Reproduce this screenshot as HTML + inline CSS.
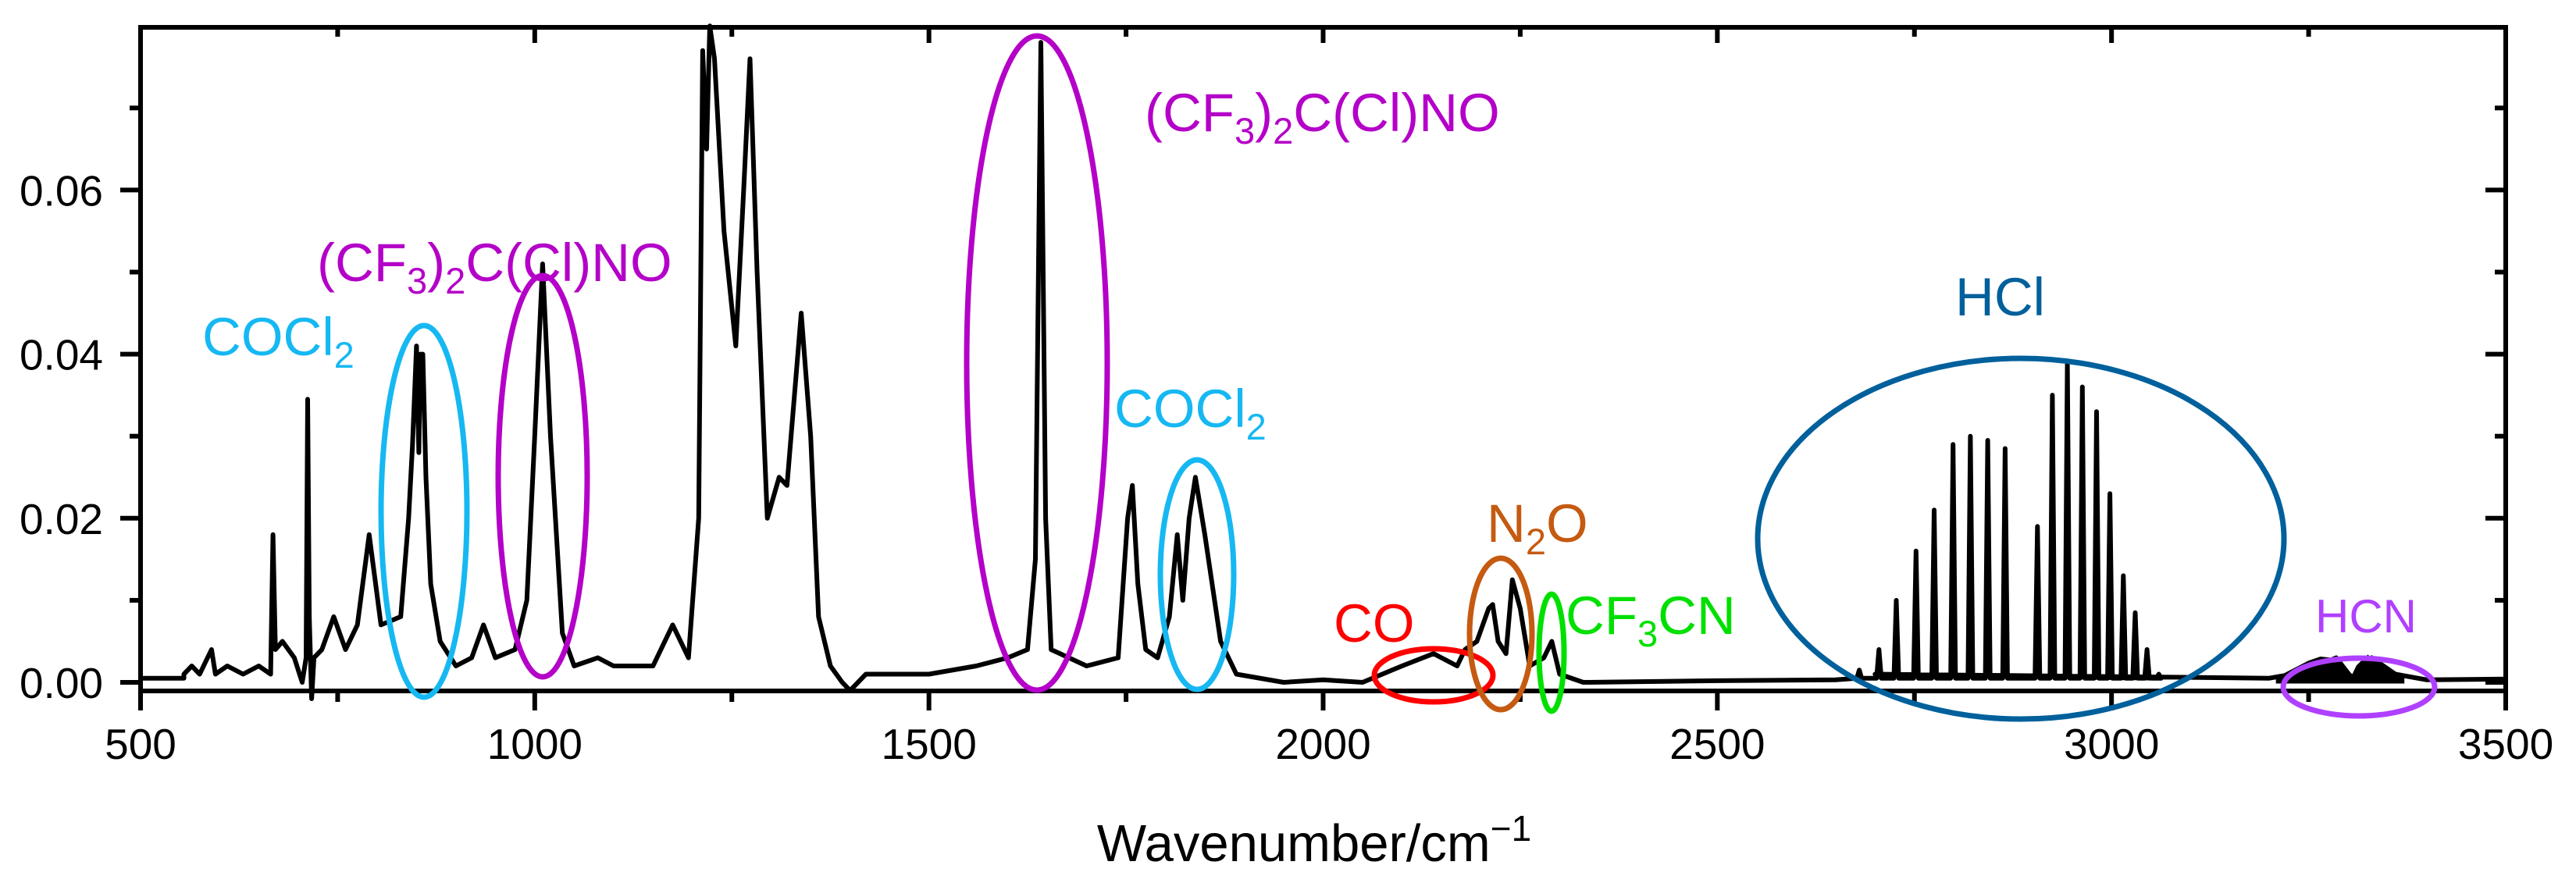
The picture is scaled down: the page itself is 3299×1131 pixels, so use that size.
<!DOCTYPE html>
<html><head><meta charset="utf-8"><style>
html,body{margin:0;padding:0;background:#fff;}
svg{display:block;font-family:"Liberation Sans",sans-serif;}
</style></head><body>
<svg id="chart" width="3299" height="1131" viewBox="0 0 3299 1131" xmlns="http://www.w3.org/2000/svg">
<g id="axes"></g>
<g id="series"></g>
<g id="annots">
  <ellipse cx="543" cy="655" rx="55" ry="238" fill="none" stroke="#16b8f2" stroke-width="7"/>
  <text x="259" y="455" font-size="69" fill="#16b8f2">COCl<tspan font-size="47" dy="16">2</tspan></text>
  <ellipse cx="695" cy="610" rx="57" ry="257" fill="none" stroke="#b400c8" stroke-width="7"/>
  <text x="406" y="360" font-size="69" fill="#b400c8">(CF<tspan font-size="47" dy="16">3</tspan><tspan dy="-16">)</tspan><tspan font-size="47" dy="16">2</tspan><tspan dy="-16">C(Cl)NO</tspan></text>
  <ellipse cx="1328" cy="465" rx="90" ry="419" fill="none" stroke="#b400c8" stroke-width="7"/>
  <text x="1466" y="168" font-size="69" fill="#b400c8">(CF<tspan font-size="47" dy="16">3</tspan><tspan dy="-16">)</tspan><tspan font-size="47" dy="16">2</tspan><tspan dy="-16">C(Cl)NO</tspan></text>
  <ellipse cx="1533" cy="736" rx="47" ry="147" fill="none" stroke="#16b8f2" stroke-width="7"/>
  <text x="1427" y="547" font-size="69" fill="#16b8f2">COCl<tspan font-size="47" dy="16">2</tspan></text>
  <ellipse cx="1836" cy="865" rx="76" ry="34" fill="none" stroke="#ff0000" stroke-width="7"/>
  <text x="1708" y="822" font-size="69" fill="#ff0000">CO</text>
  <ellipse cx="1922" cy="812" rx="40" ry="97" fill="none" stroke="#c55a11" stroke-width="7"/>
  <text x="1904" y="694" font-size="69" fill="#c55a11">N<tspan font-size="47" dy="16">2</tspan><tspan dy="-16">O</tspan></text>
  <ellipse cx="1987" cy="836" rx="16" ry="75" fill="none" stroke="#00e000" stroke-width="7"/>
  <text x="2005" y="812" font-size="69" fill="#00e000">CF<tspan font-size="47" dy="16">3</tspan><tspan dy="-16">CN</tspan></text>
  <ellipse cx="2588" cy="690" rx="337" ry="231" fill="none" stroke="#00609c" stroke-width="7"/>
  <text x="2504" y="404" font-size="69" fill="#00609c">HCl</text>
  <ellipse cx="3021" cy="880" rx="97" ry="37" fill="none" stroke="#b040ff" stroke-width="7"/>
  <text x="2965" y="810" font-size="60" fill="#b040ff">HCN</text>
</g>
</svg>
<script>
const xTicks = [500, 1000, 1500, 2000, 2500, 3000, 3500];
const yTicks = [0.00, 0.02, 0.04, 0.06];
const yTickLabels = ["0.00", "0.02", "0.04", "0.06"];
const specX = [555,565,575,585,590,595,610,630,650,665,668,671,680,695,705,710,712,714,717,720,730,745,760,775,790,805,830,840,845,850,853,855,858,862,868,880,900,920,935,950,975,990,1000,1010,1020,1035,1050,1080,1100,1120,1150,1175,1195,1208,1213,1218,1222,1228,1240,1255,1265,1273,1282,1295,1310,1320,1338,1350,1360,1375,1390,1400,1420,1500,1560,1600,1625,1635,1642,1648,1655,1700,1740,1752,1758,1765,1775,1790,1805,1815,1822,1830,1838,1850,1870,1890,1950,2000,2050,2100,2140,2170,2180,2195,2210,2215,2222,2232,2240,2250,2262,2280,2290,2300,2330,2500,2650,2700,3200,3230,3260,3285,3305,3330,3360,3400,3500];
const specY = [0.001,0.002,0.001,0.003,0.004,0.001,0.002,0.001,0.002,0.001,0.018,0.004,0.005,0.003,0.000,0.003,0.0345,0.008,-0.002,0.003,0.004,0.008,0.004,0.007,0.018,0.007,0.008,0.020,0.029,0.041,0.028,0.040,0.040,0.025,0.012,0.005,0.002,0.003,0.007,0.003,0.004,0.010,0.030,0.051,0.030,0.006,0.002,0.003,0.002,0.002,0.002,0.007,0.003,0.020,0.077,0.065,0.080,0.076,0.055,0.041,0.060,0.076,0.050,0.020,0.025,0.024,0.045,0.030,0.008,0.002,0.000,-0.001,0.001,0.001,0.002,0.003,0.004,0.015,0.078,0.020,0.004,0.002,0.003,0.020,0.024,0.012,0.004,0.003,0.008,0.018,0.010,0.020,0.025,0.018,0.005,0.001,0.000,0.0003,0.000,0.002,0.0035,0.002,0.004,0.005,0.009,0.0095,0.005,0.0035,0.0125,0.009,0.002,0.003,0.005,0.001,0.000,0.0002,0.0003,0.001,0.0005,0.001,0.002,0.003,0.0005,0.003,0.001,0.0003,0.0004];
const hclX = [2680,2705,2727,2752,2775,2799,2821,2843,2865,2906,2925,2944,2963,2981,2998,3015,3030,3045,3060];
const hclY = [0.0015,0.004,0.010,0.016,0.021,0.029,0.030,0.0295,0.0285,0.019,0.035,0.039,0.036,0.033,0.023,0.013,0.0085,0.004,0.001];
const hcnX=[3210,3230,3250,3265,3285,3300,3306,3312,3325,3340,3355,3370];
const hcnY=[0.0005,0.0015,0.0025,0.003,0.0028,0.0012,0.0008,0.002,0.0032,0.0022,0.001,0.0005];

const X0=180, X1=3209, Ytop=35, Ybot=885;
const sx = v => X0 + (v-500)*(X1-X0)/3000;
const sy = v => 874 - v*10510;
const NS="http://www.w3.org/2000/svg";
function mk(tag, parent, attrs){const e=document.createElementNS(NS,tag);for(const k in attrs)e.setAttribute(k,attrs[k]);parent.appendChild(e);return e;}
const axes=document.getElementById('axes');
const series=document.getElementById('series');

let d='M'+sx(500)+' '+sy(0.0005)+' L'+sx(555)+' '+sy(0.0005);
for(let i=0;i<specX.length;i++){
  d+=' L'+sx(specX[i]).toFixed(1)+' '+sy(specY[i]).toFixed(1);
  if(specX[i]===2650){
    for(let j=0;j<hclX.length;j++){
      d+=' L'+sx(hclX[j]-3).toFixed(1)+' '+sy(0.0005).toFixed(1);
      d+=' L'+sx(hclX[j]).toFixed(1)+' '+sy(hclY[j]).toFixed(1);
      d+=' L'+sx(hclX[j]+3).toFixed(1)+' '+sy(0.0005).toFixed(1);
    }
  }
}
const sp=mk('path',series,{d:d,fill:'none',stroke:'#000','stroke-width':6,'stroke-linejoin':'round'});


let hd='M'+sx(hcnX[0])+' '+sy(0);
for(let i=0;i<hcnX.length;i++) hd+=' L'+sx(hcnX[i]).toFixed(1)+' '+sy(hcnY[i]).toFixed(1);
hd+=' L'+sx(hcnX[hcnX.length-1])+' '+sy(0)+' Z';
const hf=mk('path',series,{d:hd,fill:'#000',stroke:'#000','stroke-width':3});



const fr=mk('rect',axes,{x:X0,y:Ytop,width:X1-X0,height:Ybot-Ytop,fill:'none',stroke:'#000','stroke-width':6});


for(let v=500; v<=3500; v+=250){
  const x=sx(v), maj=(v%500===0);
  const t1=mk('line',axes,{x1:x,x2:x,y1:Ybot,y2:Ybot+(maj?25:14),stroke:'#000','stroke-width':6});
  
  
  const t2=mk('line',axes,{x1:x,x2:x,y1:Ytop,y2:Ytop+(maj?20:12),stroke:'#000','stroke-width':6});
  
  
}
xTicks.forEach(v=>{
  const t=mk('text',axes,{x:sx(v),y:972,'font-size':55,'text-anchor':'middle',fill:'#000'});
  t.textContent=String(v);
  
  
});
for(let k=0;k<=7;k++){
  const v=k*0.01, y=sy(v), maj=(k%2===0);
  const t1=mk('line',axes,{x1:X0-(maj?26:14),x2:X0,y1:y,y2:y,stroke:'#000','stroke-width':6});
  
  
  const t2=mk('line',axes,{x1:X1-(maj?26:14),x2:X1,y1:y,y2:y,stroke:'#000','stroke-width':6});
  
  
}
yTicks.forEach((v,i)=>{
  const t=mk('text',axes,{x:132,y:sy(v)+20,'font-size':55,'text-anchor':'end',fill:'#000'});
  t.textContent=yTickLabels[i];
  
  
});
const xt=mk('text',axes,{x:1683,y:1103,'font-size':67,'text-anchor':'middle',fill:'#000'});
xt.innerHTML='Wavenumber/cm<tspan font-size="46" dy="-26">−1</tspan>';


</script>
</body></html>
